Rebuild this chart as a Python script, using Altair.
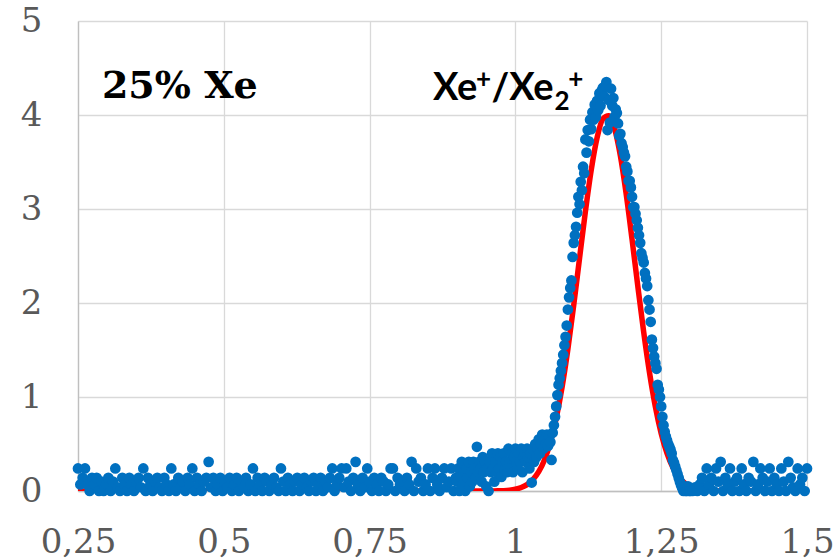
import altair as alt
import pandas as pd

# ---- scatter data ----
# segment 1: x from 0.250, step 0.004
seg1_start, seg1_step = 0.250, 0.004
seg1_y = [
    0.24, 0.07, 0.14, 0.24, 0.07, 0, 0.14, 0.07, 0.14, 0,
    0.1, 0, 0.07, 0.14, 0, 0.1, 0.24, 0.04, 0, 0.14,
    0.07, 0, 0.14, 0.07, 0, 0.1, 0.14, 0.04, 0.24, 0,
    0.14, 0.07, 0, 0.1, 0.14, 0.04, 0, 0.14, 0.07, 0,
    0.24, 0.07, 0, 0.14, 0.04, 0.1, 0, 0.14, 0.07, 0.24,
    0, 0.14, 0.07, 0, 0.1, 0.14, 0.31, 0.04, 0.14, 0,
    0.07, 0.14, 0, 0.1, 0.04, 0.14, 0, 0.07, 0.14, 0,
    0.1, 0.04, 0.14, 0, 0.07, 0.24, 0, 0.14, 0.07, 0,
    0.14, 0.1, 0, 0.07, 0.14, 0.04, 0, 0.24, 0.1, 0,
    0.14, 0.07, 0, 0.1, 0.14, 0, 0.07, 0.14, 0.04, 0,
    0.1, 0.14, 0, 0.07, 0.14, 0, 0.1, 0.04, 0.14, 0.24,
    0, 0.07, 0.14, 0.24, 0.04, 0.24, 0.1, 0, 0.14, 0.31,
    0.07, 0, 0.14, 0.04, 0.24, 0.1, 0, 0.14, 0.07, 0,
    0.14, 0.1, 0, 0.07, 0.24, 0.24, 0, 0.14, 0.07, 0.1,
    0, 0.14, 0.07, 0.31, 0, 0.24, 0.1, 0.14, 0, 0.07,
    0.24, 0, 0.14, 0.24, 0.07, 0, 0.14, 0.24, 0.04, 0.1,
    0.24, 0, 0.14,
]
# segment 2: x from 0.900, step 0.002
seg2_start, seg2_step = 0.900, 0.002
seg2_y = [
    0.1, 0.24, 0.0, 0.15, 0.31, 0.07, 0.2, 0.0, 0.24, 0.14,
    0.31, 0.05, 0.2, 0.1, 0.31, 0.24, 0.14, 0.47, 0.2, 0.31,
    0.24, 0.1, 0.36, 0.2, 0.31, 0.05, 0.24, 0.0, 0.31, 0.2,
    0.4, 0.24, 0.1, 0.31, 0.2, 0.4, 0.24, 0.36, 0.15, 0.31,
    0.4, 0.24, 0.31, 0.2, 0.45, 0.31, 0.24, 0.4, 0.2, 0.36,
    0.45, 0.31, 0.24, 0.4, 0.31, 0.45, 0.2, 0.36, 0.4, 0.31,
    0.45, 0.36, 0.24, 0.4, 0.09, 0.45, 0.31, 0.5, 0.36, 0.45,
    0.55, 0.4, 0.5, 0.6, 0.45, 0.55, 0.5, 0.6, 0.48, 0.58,
    0.52, 0.33, 0.62, 0.7, 0.79, 0.9, 1.02, 1.13, 1.2, 1.28,
    1.36, 1.45, 1.55, 1.64, 1.76, 1.93, 2.06, 2.16, 2.24, 2.49,
    2.64, 2.72, 2.81, 2.96, 3.13, 3.05, 3.29, 3.2, 3.45, 3.38,
    3.74, 3.6, 3.84, 3.72, 3.95, 3.85, 4.03, 3.95, 4.11, 3.98,
    4.15, 4.05, 4.23, 4.1, 4.26, 4.29, 4.2, 4.31, 4.35, 3.84,
    4.16, 3.92, 4.28, 4.1, 4.18, 3.98, 4.06, 4.02, 3.91, 3.78,
    3.8, 3.7, 3.66, 3.6, 3.56, 3.45, 3.4, 3.3, 3.3, 3.23,
    3.13, 3.02, 3.02, 2.95, 2.88, 2.8, 2.72, 2.64, 2.53, 2.48,
    2.43, 2.32, 2.26, 2.18, 2.03, 1.93, 1.8, 1.61, 1.52, 1.43,
    1.36, 1.3, 1.13, 1.08, 1.0, 0.9, 0.79, 0.7, 0.63, 0.58,
    0.54, 0.5, 0.47, 0.44, 0.4, 0.33, 0.3, 0.26, 0.22, 0.18,
    0.14, 0.1, 0.06, 0.03, 0.0, 0.05, 0.0, 0.0, 0.05, 0.0,
]
# segment 3: x from 1.300, step 0.004
seg3_start, seg3_step = 1.300, 0.004
seg3_y = [
    0, 0, 0.04, 0, 0.07, 0.14, 0, 0.24, 0.07, 0.14,
    0, 0.24, 0.1, 0.31, 0, 0.14, 0.07, 0.24, 0, 0.1,
    0.14, 0, 0.24, 0.07, 0, 0.14, 0.1, 0.31, 0, 0.07,
    0.24, 0.14, 0, 0.1, 0.24, 0, 0.14, 0.07, 0, 0.24,
    0.1, 0, 0.31, 0.14, 0.04, 0, 0.24, 0.07, 0.14, 0,
    0.24,
]

# ---- fitted curve ----
fit_x = [0.25, 0.90, 0.95, 0.96, 0.97, 0.98, 0.99, 1.00, 1.01, 1.02, 1.03, 1.04,
         1.05, 1.06, 1.07, 1.08, 1.09, 1.10, 1.11, 1.12, 1.13, 1.14, 1.15, 1.16,
         1.17, 1.18, 1.19, 1.20, 1.21, 1.22, 1.23, 1.24, 1.25, 1.26, 1.27, 1.28,
         1.29, 1.30, 1.31, 1.32, 1.33, 1.34, 1.36, 1.40, 1.50]
fit_y = [0, 0, 0.0, 0.001, 0.002, 0.004, 0.009, 0.019, 0.037, 0.068, 0.121, 0.205,
         0.333, 0.519, 0.774, 1.104, 1.51, 1.976, 2.477, 2.971, 3.414, 3.757, 3.958, 3.992,
         3.856, 3.566, 3.158, 2.678, 2.174, 1.69, 1.258, 0.897, 0.612, 0.4, 0.25, 0.15,
         0.086, 0.047, 0.025, 0.012, 0.006, 0.003, 0.001, 0, 0]

# ---- axis ticks ----
x_ticks = [0.25, 0.5, 0.75, 1.0, 1.25, 1.5]
y_ticks = [0, 1, 2, 3, 4, 5]

# ---- annotations ----
label1_text, label1_x, label1_y = "25% Xe", 0.291, 4.18
# "Xe+/Xe2+" built from pieces (text, x, baseline y, font size)
label2_text = ["Xe", "+", "/Xe", "2", "+"]
label2_x = [0.8587, 0.9324, 0.9590, 1.0670, 1.0905]
label2_y = [4.16, 4.29, 4.16, 4.05, 4.29]
label2_size = [38, 26, 38, 26, 26]

xs, ys = [], []
for start, step, vals in [(seg1_start, seg1_step, seg1_y),
                          (seg2_start, seg2_step, seg2_y),
                          (seg3_start, seg3_step, seg3_y)]:
    for i, v in enumerate(vals):
        xs.append(round(start + step * i, 4))
        ys.append(v)

pts = pd.DataFrame({"x": xs, "y": ys})
fit = pd.DataFrame({"x": fit_x, "y": fit_y})

xscale = alt.Scale(domain=[0.25, 1.5], nice=False, zero=False)
yscale = alt.Scale(domain=[0, 5], nice=False, zero=True)

lab = dict(labelFont="DejaVu Serif", labelFontSize=34, labelColor="#595959",
           ticks=False, tickSize=0, title=None, gridColor="#D9D9D9", gridWidth=1.3,
           domainColor="#BFBFBF", domainWidth=1.3)

xaxis = alt.Axis(values=x_ticks, format=".3~f", labelPadding=34,
                 labelExpr="replace(datum.label, '.', ',')", labelOverlap=False,
                 labelFlush=False, **lab)
yaxis = alt.Axis(values=y_ticks, format="d", labelPadding=36, **lab)

line = alt.Chart(fit).mark_line(color="#FF0000", strokeWidth=5.5, interpolate="monotone",
                                clip=True).encode(
    x=alt.X("x:Q", scale=xscale, axis=xaxis),
    y=alt.Y("y:Q", scale=yscale, axis=yaxis),
)

dots = alt.Chart(pts).mark_circle(color="#0070C0", size=115, opacity=1).encode(
    x=alt.X("x:Q", scale=xscale),
    y=alt.Y("y:Q", scale=yscale),
)

a1 = alt.Chart(pd.DataFrame({"t": [label1_text], "x": [label1_x], "y": [label1_y]})).mark_text(
    font="DejaVu Serif", fontWeight="bold", fontSize=38, color="#000000",
    align="left", baseline="alphabetic").encode(
    x=alt.X("x:Q", scale=xscale), y=alt.Y("y:Q", scale=yscale), text="t:N")

a2 = alt.Chart(pd.DataFrame({"t": label2_text, "x": label2_x, "y": label2_y,
                             "s": label2_size})).mark_text(
    font="Lato", fontWeight="bold", color="#000000",
    align="left", baseline="alphabetic").encode(
    x=alt.X("x:Q", scale=xscale), y=alt.Y("y:Q", scale=yscale), text="t:N",
    size=alt.Size("s:Q", scale=None, legend=None))

chart = alt.layer(line, dots, a1, a2).properties(
    width=729, height=470,
    autosize=alt.AutoSizeParams(type="none"),
    padding={"left": 78, "top": 21, "right": 31, "bottom": 69},
    background="white",
).configure_view(stroke=None)

chart.save("out.html", embed_options={"renderer": "svg", "actions": False})
